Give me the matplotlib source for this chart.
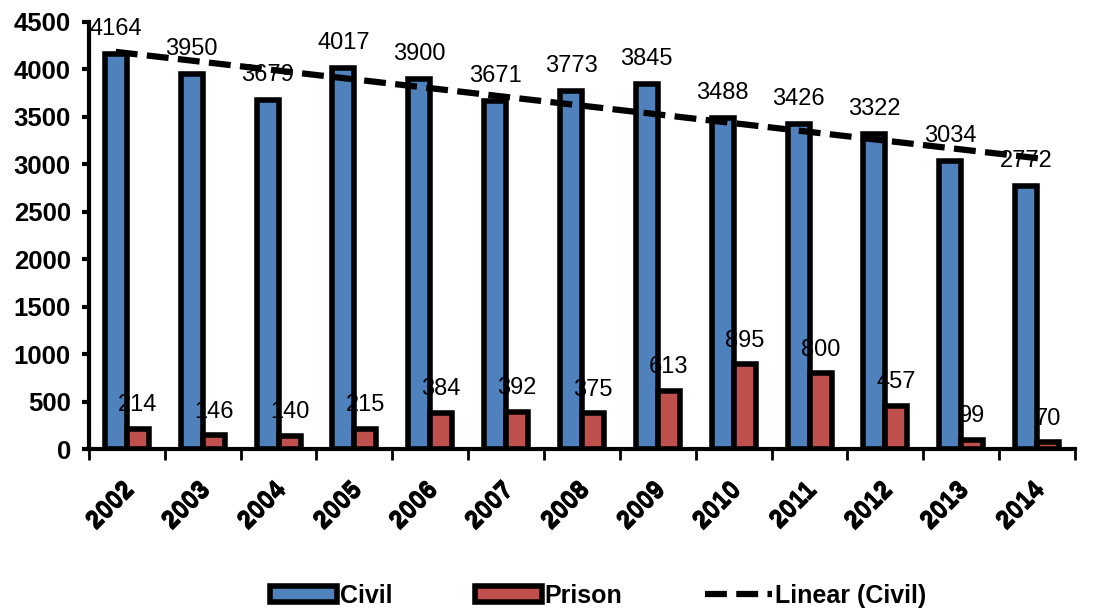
import numpy as np
import matplotlib.pyplot as plt
import matplotlib.patheffects as pe

plt.rcParams['font.family'] = ['Liberation Sans', 'DejaVu Sans']

years = ['2002', '2003', '2004', '2005', '2006', '2007', '2008',
         '2009', '2010', '2011', '2012', '2013', '2014']
civil = [4164, 3950, 3679, 4017, 3900, 3671, 3773, 3845, 3488, 3426, 3322, 3034, 2772]
prison = [214, 146, 140, 215, 384, 392, 375, 613, 895, 800, 457, 99, 70]

x = np.arange(len(years))
w = 0.29

fig = plt.figure(figsize=(10.97, 6.11), dpi=100)
ax = fig.add_axes([0.081, 0.265, 0.899, 0.699])

b1 = ax.bar(x - w / 2, civil, w, color='#4F81BD', edgecolor='black', linewidth=4, label='Civil', zorder=2)
b2 = ax.bar(x + w / 2, prison, w, color='#C0504D', edgecolor='black', linewidth=4, label='Prison', zorder=2)

# linear trend over the civil series
k, c = np.polyfit(x, civil, 1)
tx = np.array([x[0] - w / 2, x[-1] - w / 2 + 0.2])
trend, = ax.plot(tx, k * tx + c, color='black', linestyle=(0, (3.5, 1.5)), linewidth=4.5,
                 label='Linear (Civil)', zorder=3)

for xi, v in zip(x, civil):
    ax.annotate(str(v), (xi - w / 2, v), xytext=(0, 10), textcoords='offset points',
                ha='center', va='bottom', fontsize=17, zorder=4)
for xi, v in zip(x, prison):
    ax.annotate(str(v), (xi + w / 2, v), xytext=(0, 9), textcoords='offset points',
                ha='center', va='bottom', fontsize=17, zorder=4)

ax.set_xlim(-0.5, len(years) - 0.5)
ax.set_ylim(0, 4500)
ax.set_yticks(range(0, 4501, 500))
ax.tick_params(axis='y', labelsize=18.5, width=3, length=5, direction='out', pad=8)
for t in ax.get_yticklabels():
    t.set_fontweight('bold')

# category separators on the x axis
ax.set_xticks(np.arange(-0.5, len(years), 1.0), minor=False)
ax.set_xticklabels([])
ax.tick_params(axis='x', which='major', width=2, length=8, direction='out')
ax.set_xticks(x - 0.08, minor=True)
ax.set_xticklabels(years, minor=True, rotation=45, ha='right', rotation_mode='anchor',
                   fontsize=18, fontweight='bold',
                   path_effects=[pe.withSimplePatchShadow(offset=(1, -1), shadow_rgbFace='black', alpha=1)])
ax.tick_params(axis='x', which='minor', length=0, pad=20)

for s in ['top', 'right']:
    ax.spines[s].set_visible(False)
ax.spines['left'].set_linewidth(3)
ax.spines['bottom'].set_linewidth(3)

fig.legend([b1, b2, trend], ['Civil', 'Prison', 'Linear (Civil)'],
           loc='center', bbox_to_anchor=(0.545, 0.025), ncol=3, frameon=False,
           prop={'weight': 'bold', 'size': 18}, handlelength=2.7, handleheight=0.6,
           handletextpad=0.1, columnspacing=3.3)

fig.savefig('out.png', dpi=100)
